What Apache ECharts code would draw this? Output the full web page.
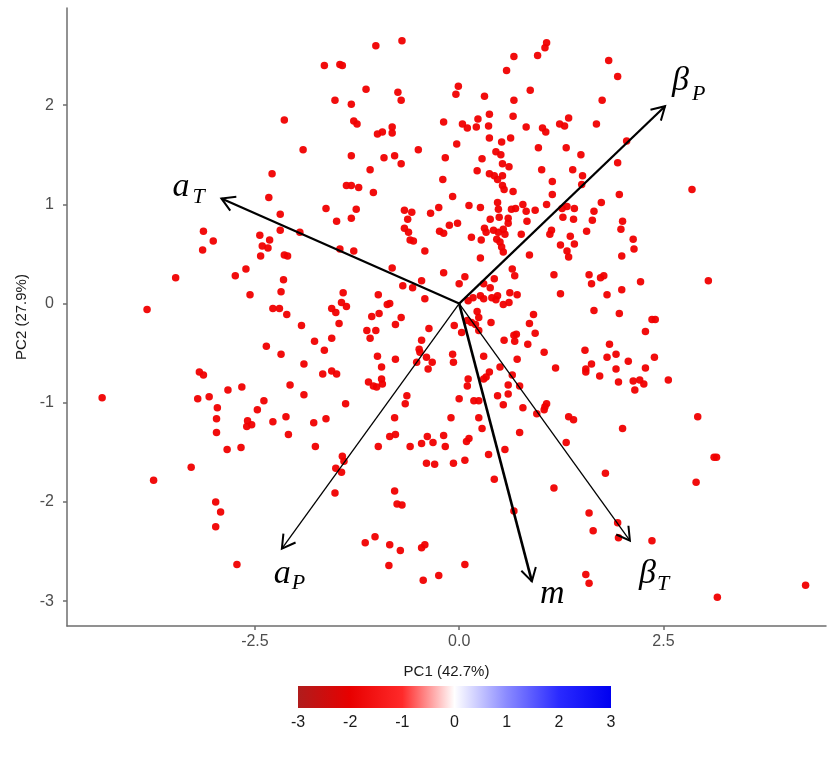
<!DOCTYPE html>
<html>
<head>
<meta charset="utf-8">
<script src="https://cdn.jsdelivr.net/npm/echarts@6/dist/echarts.min.js"></script>
<style>html,body{margin:0;padding:0;background:#fff}#main{width:831px;height:761px}</style>
</head>
<body>
<div id="main"></div>
<script>
// PCA scores [PC1, PC2]
var scores = [
  [-0.70,2.65],[-1.02,2.60],[-1.65,2.40],[-1.46,2.41],[-1.43,2.40],[-1.14,2.16],[-0.75,2.13],[-0.71,2.05],[-1.52,2.05],[-1.32,2.01],
  [-2.14,1.85],[-1.29,1.84],[-1.25,1.81],[-0.19,1.83],[-0.82,1.78],[-1.00,1.71],[-0.94,1.73],[-0.82,1.72],[-1.91,1.55],[-1.32,1.49],
  [-0.92,1.47],[-0.79,1.49],[-0.71,1.41],[-0.50,1.55],[-0.17,1.47],[-2.29,1.31],[-1.09,1.35],[-0.20,1.25],[-1.38,1.19],[-1.32,1.19],
  [-1.23,1.17],[-1.05,1.12],[-2.33,1.07],[-1.63,0.96],[-1.26,0.95],[-2.19,0.90],[-0.67,0.94],[-0.58,0.92],[-0.35,0.91],[-0.25,0.97],
  [1.07,2.63],[1.05,2.58],[0.67,2.49],[0.96,2.50],[1.83,2.45],[0.58,2.35],[1.94,2.29],[-0.01,2.19],[-0.04,2.11],[0.31,2.09],
  [0.87,2.15],[0.67,2.05],[1.75,2.05],[0.37,1.91],[0.66,1.89],[0.23,1.86],[0.04,1.81],[0.10,1.77],[0.21,1.78],[0.36,1.79],
  [0.82,1.78],[1.02,1.77],[1.06,1.73],[1.23,1.81],[1.29,1.79],[1.34,1.87],[1.68,1.81],[-0.03,1.61],[0.37,1.67],[0.52,1.63],
  [0.63,1.67],[0.97,1.57],[1.31,1.57],[1.49,1.50],[2.05,1.64],[0.45,1.53],[0.51,1.50],[0.28,1.46],[0.53,1.41],[0.61,1.38],
  [0.22,1.34],[1.01,1.35],[1.39,1.35],[1.94,1.42],[0.37,1.31],[0.43,1.29],[0.47,1.25],[0.53,1.29],[1.51,1.29],[1.14,1.23],
  [0.53,1.19],[0.55,1.15],[0.66,1.13],[1.50,1.20],[1.14,1.10],[-0.08,1.08],[1.96,1.10],[0.12,0.99],[0.26,0.97],[0.47,1.02],
  [0.48,0.95],[0.64,0.95],[0.69,0.96],[0.78,1.00],[0.82,0.93],[0.93,0.94],[1.07,1.00],[1.26,0.96],[1.32,0.98],[1.41,0.96],
  [1.65,0.93],[1.74,1.02],[2.85,1.15],
  [-3.13,0.73],[-3.01,0.63],[-3.14,0.54],[-3.47,0.26],[-3.82,-0.06],[-2.74,0.28],[-2.61,0.35],[-2.56,0.09],[-3.18,-0.69],[-3.13,-0.72],
  [-4.37,-0.95],[-3.20,-0.96],[-3.06,-0.94],[-2.83,-0.87],[-2.66,-0.84],[-2.96,-1.05],[-2.97,-1.16],[-2.59,-1.18],[-2.47,-1.07],
  [-1.50,0.83],[-1.32,0.86],[-0.63,0.85],[-2.19,0.74],[-1.95,0.72],[-2.44,0.69],[-2.32,0.64],[-2.41,0.58],[-2.34,0.56],[-2.43,0.48],
  [-2.14,0.49],[-2.10,0.48],[-1.46,0.55],[-1.29,0.53],[-0.67,0.76],[-0.62,0.72],[-0.60,0.64],[-0.56,0.63],[-0.42,0.53],[-0.24,0.73],
  [-0.19,0.71],[-0.82,0.36],[-0.69,0.18],[-0.57,0.16],[-0.46,0.23],[-0.42,0.05],[-0.19,0.31],[-2.15,0.24],[-2.18,0.12],[-1.42,0.11],
  [-2.28,-0.05],[-2.20,-0.05],[-2.11,-0.11],[-1.56,-0.05],[-1.51,-0.09],[-1.44,0.01],[-1.38,-0.03],[-1.47,-0.20],[-0.99,0.09],[-0.88,-0.01],
  [-0.85,0.00],[-0.98,-0.10],[-1.07,-0.13],[-0.78,-0.21],[-0.71,-0.14],[-1.13,-0.27],[-1.02,-0.27],[-1.09,-0.35],[-0.37,-0.25],[-0.46,-0.37],
  [-1.93,-0.22],[-1.77,-0.38],[-1.65,-0.47],[-1.56,-0.35],[-2.36,-0.43],[-2.18,-0.51],[-1.90,-0.61],[-1.00,-0.53],[-0.78,-0.56],[-0.95,-0.64],
  [-0.49,-0.46],[-0.48,-0.49],[-0.52,-0.59],[-0.40,-0.54],[-0.33,-0.59],[-0.38,-0.66],[-1.67,-0.71],[-1.56,-0.68],[-1.50,-0.71],[-1.11,-0.79],
  [-1.05,-0.83],[-0.95,-0.76],[-0.94,-0.81],[-1.01,-0.84],[-2.07,-0.82],[-1.90,-0.92],[-2.39,-0.98],[-1.39,-1.01],[-0.64,-0.93],[-0.66,-1.01],
  [-0.79,-1.15],[-2.12,-1.14],[-1.63,-1.16],[-2.28,-1.19],[-1.78,-1.20],
  [-0.12,0.79],[-0.02,0.81],[0.38,0.85],[0.49,0.87],[0.60,0.86],[0.60,0.81],[0.83,0.83],[0.31,0.76],[0.33,0.72],[0.42,0.74],
  [0.48,0.72],[0.54,0.75],[0.56,0.70],[0.46,0.65],[0.50,0.62],[0.52,0.57],[0.54,0.52],[0.15,0.67],[0.27,0.64],[0.76,0.70],
  [0.86,0.49],[0.26,0.46],[1.13,0.74],[1.11,0.70],[1.24,0.59],[1.36,0.68],[1.41,0.60],[1.32,0.53],[1.34,0.47],[1.27,0.87],
  [1.40,0.85],[1.63,0.84],[1.56,0.73],[2.00,0.83],[1.98,0.75],[2.13,0.65],[2.14,0.55],[1.99,0.48],[0.65,0.35],[0.68,0.28],
  [0.43,0.25],[0.38,0.16],[0.30,0.20],[0.07,0.27],[0.00,0.20],[1.16,0.29],[1.59,0.29],[1.62,0.20],[1.73,0.26],[1.77,0.28],
  [1.99,0.14],[1.81,0.09],[1.24,0.10],[0.62,0.11],[0.71,0.09],[0.26,0.08],[0.30,0.05],[0.40,0.06],[0.45,0.04],[0.47,0.08],
  [0.11,0.03],[0.17,0.06],[0.54,-0.01],[0.61,0.01],[1.65,-0.07],[1.96,-0.10],[0.91,-0.11],[0.22,-0.08],[0.24,-0.14],[0.20,-0.21],
  [0.10,-0.17],[0.15,-0.19],[0.39,-0.19],[0.86,-0.20],[-0.06,-0.22],[0.03,-0.29],[0.24,-0.27],[0.93,-0.30],[0.67,-0.32],[0.70,-0.31],
  [0.55,-0.37],[0.68,-0.38],[0.84,-0.41],[1.04,-0.49],[1.84,-0.41],[1.54,-0.47],[-0.08,-0.51],[-0.07,-0.59],[0.30,-0.53],[0.71,-0.56],
  [1.81,-0.54],[1.92,-0.51],[2.07,-0.58],[1.62,-0.61],[1.55,-0.66],[1.55,-0.69],[1.72,-0.73],[1.92,-0.66],[1.95,-0.79],[2.13,-0.78],
  [2.15,-0.87],[1.18,-0.65],[0.50,-0.64],[0.65,-0.72],[0.37,-0.69],[0.33,-0.74],[0.30,-0.76],[0.11,-0.76],[0.10,-0.83],[0.60,-0.82],
  [0.74,-0.83],[0.00,-0.96],[0.18,-0.98],[0.24,-0.98],[0.47,-0.93],[0.60,-0.91],[0.54,-1.02],[0.78,-1.05],[1.05,-1.04],[1.07,-1.01],
  [1.04,-1.07],[0.95,-1.11],[-0.10,-1.15],[0.24,-1.15],[1.34,-1.14],[1.40,-1.17],
  [2.22,0.22],[3.05,0.23],[2.36,-0.16],[2.40,-0.16],[2.28,-0.28],[2.39,-0.54],[2.28,-0.65],[2.21,-0.77],[2.26,-0.81],[2.56,-0.77],[2.92,-1.14],
  [-2.97,-1.30],[-2.84,-1.47],[-2.67,-1.45],[-2.60,-1.24],[-2.54,-1.22],[-3.28,-1.65],[-3.74,-1.78],[-2.98,-2.00],[-2.92,-2.10],[-2.98,-2.25],[-2.72,-2.63],
  [-2.09,-1.32],[-1.76,-1.44],[-1.43,-1.54],[-1.41,-1.59],[-1.51,-1.66],[-1.44,-1.70],[-1.52,-1.91],[-0.99,-1.44],[-0.85,-1.34],[-0.78,-1.32],
  [-0.60,-1.44],[-0.46,-1.41],[-0.39,-1.34],[-0.32,-1.40],[-0.19,-1.33],[-0.17,-1.44],[-0.40,-1.61],[-0.30,-1.62],[-0.79,-1.89],[-0.76,-2.02],
  [-0.70,-2.03],[-1.15,-2.41],[-1.03,-2.35],[-0.85,-2.43],[-0.72,-2.49],[-0.46,-2.46],[-0.42,-2.43],[-0.86,-2.64],[-0.25,-2.74],[-0.44,-2.79],
  [-0.07,-1.61],[0.07,-1.58],[0.09,-1.39],[0.12,-1.36],[0.28,-1.26],[0.36,-1.52],[0.56,-1.47],[0.74,-1.30],[0.43,-1.77],[0.67,-2.09],
  [1.16,-1.86],[1.31,-1.40],[1.79,-1.71],[2.00,-1.26],[1.59,-2.11],[1.64,-2.29],[1.94,-2.21],[1.95,-2.36],[0.07,-2.63],[1.55,-2.73],[1.59,-2.82],
  [3.12,-1.55],[3.15,-1.55],[2.90,-1.80],[2.36,-2.39],[3.16,-2.96],[4.24,-2.84]
];

// loading arrows
var loadingNames = ['aT', 'betaP', 'aP', 'm', 'betaT'];
var loadingPC1 = [-2.91, 2.52, -2.17, 0.89, 2.09];
var loadingPC2 = [1.06, 1.99, -2.47, -2.80, -2.39];

var xTicks = [-2.5, 0, 2.5];
var yTicks = [-3, -2, -1, 0, 1, 2];
var legendTicks = [-3, -2, -1, 0, 1, 2, 3];
var legendColors = ['#b01c1c', '#e80000', '#ff2a2a', '#ffffff', '#8a8aff', '#2a2aff', '#0000f0'];

// arrow label look: main glyph + subscript, pixel offsets from the arrow tip
var arrowLook = {
  aT:    {w: 2.2, main: 'a', sub: 'T', mx: -49, my: -11, sx: -29, sy: -1},
  betaP: {w: 2.2, main: '\u03b2', sub: 'P', mx: 7, my: -25, sx: 27, sy: -12},
  aP:    {w: 1.3, main: 'a', sub: 'P', mx: -8, my: 25, sx: 10, sy: 35},
  m:     {w: 2.6, main: 'm', sub: '', mx: 8, my: 13, sx: 0, sy: 0},
  betaT: {w: 1.3, main: '\u03b2', sub: 'T', mx: 9, my: 33, sx: 27, sy: 44}
};

var arrowData = loadingNames.map(function (n, i) { return [loadingPC1[i], loadingPC2[i]]; });

function renderArrow(params, api) {
  var look = arrowLook[loadingNames[params.dataIndex]];
  var p0 = api.coord([0, 0]);
  var p1 = api.coord([api.value(0), api.value(1)]);
  var ang = Math.atan2(p1[1] - p0[1], p1[0] - p0[0]);
  var hl = 15, ha = Math.PI / 6;
  var h1 = [p1[0] - hl * Math.cos(ang - ha), p1[1] - hl * Math.sin(ang - ha)];
  var h2 = [p1[0] - hl * Math.cos(ang + ha), p1[1] - hl * Math.sin(ang + ha)];
  var ls = {stroke: '#000', lineWidth: look.w, fill: null};
  return {
    type: 'group',
    children: [
      {type: 'line', shape: {x1: p0[0], y1: p0[1], x2: p1[0], y2: p1[1]}, style: ls},
      {type: 'polyline', shape: {points: [h1, p1, h2]}, style: {stroke: '#000', lineWidth: 2, fill: null}},
      {type: 'text', x: p1[0] + look.mx, y: p1[1] + look.my,
        style: {text: look.main, fontFamily: 'Liberation Serif', fontStyle: 'italic', fontSize: 34,
          fill: '#000', align: 'left', verticalAlign: 'middle'}},
      {type: 'text', x: p1[0] + look.sx, y: p1[1] + look.sy,
        style: {text: look.sub, fontFamily: 'Liberation Serif', fontStyle: 'italic', fontSize: 22,
          fill: '#000', align: 'left', verticalAlign: 'middle'}}
    ]
  };
}

function renderColorbar(params, api) {
  var a = api.coord([api.value(0), 0]);
  var b = api.coord([api.value(1), 1]);
  var stops = legendColors.map(function (c, i) { return {offset: i / (legendColors.length - 1), color: c}; });
  return {
    type: 'rect',
    shape: {x: a[0], y: b[1], width: b[0] - a[0], height: a[1] - b[1]},
    style: {fill: new echarts.graphic.LinearGradient(0, 0, 1, 0, stops)}
  };
}

var axisColor = '#6e6e6e';
var labelStyle = {color: '#4d4d4d', fontSize: 16, fontFamily: 'Liberation Sans'};

var chart = echarts.init(document.getElementById('main'));
chart.setOption({
  animation: false,
  grid: [
    {left: 67, right: 5, top: 8, bottom: 135},
    {left: 298, width: 313, top: 686, height: 22}
  ],
  xAxis: [{
    type: 'value', min: -4.8, max: 4.49, gridIndex: 0,
    name: 'PC1 (42.7%)', nameLocation: 'middle', nameGap: 38,
    nameTextStyle: {color: '#1a1a1a', fontSize: 15, fontFamily: 'Liberation Sans'},
    axisLine: {onZero: false, lineStyle: {color: axisColor, width: 1.5}},
    axisTick: {customValues: xTicks, length: 4, lineStyle: {color: axisColor, width: 1.5}},
    axisLabel: Object.assign({customValues: xTicks, margin: 8, formatter: function (v) { return v.toFixed(1); }}, labelStyle),
    splitLine: {show: false}
  }, {
    type: 'value', min: -3, max: 3, gridIndex: 1,
    axisLine: {show: false},
    axisTick: {customValues: legendTicks, inside: true, length: 4, lineStyle: {color: '#fff', width: 1}},
    axisLabel: Object.assign({customValues: legendTicks, margin: 7}, labelStyle, {color: '#1a1a1a'}),
    splitLine: {show: false}
  }],
  yAxis: [{
    type: 'value', min: -3.25, max: 2.98, gridIndex: 0,
    name: 'PC2 (27.9%)', nameLocation: 'middle', nameGap: 38, nameRotate: 90,
    nameTextStyle: {color: '#1a1a1a', fontSize: 15, fontFamily: 'Liberation Sans'},
    axisLine: {onZero: false, lineStyle: {color: axisColor, width: 1.5}},
    axisTick: {customValues: yTicks, length: 4, lineStyle: {color: axisColor, width: 1.5}},
    axisLabel: Object.assign({customValues: yTicks, margin: 13}, labelStyle),
    splitLine: {show: false}
  }, {
    type: 'value', min: 0, max: 1, gridIndex: 1, show: false
  }],
  series: [{
    type: 'scatter', xAxisIndex: 0, yAxisIndex: 0,
    symbolSize: 7.5,
    itemStyle: {color: '#f00000', opacity: 0.95},
    data: scores
  }, {
    type: 'custom', xAxisIndex: 0, yAxisIndex: 0,
    renderItem: renderArrow,
    data: arrowData,
    z: 5
  }, {
    type: 'custom', xAxisIndex: 1, yAxisIndex: 1,
    renderItem: renderColorbar,
    data: [[legendTicks[0], legendTicks[legendTicks.length - 1]]]
  }]
});
</script>
</body>
</html>
